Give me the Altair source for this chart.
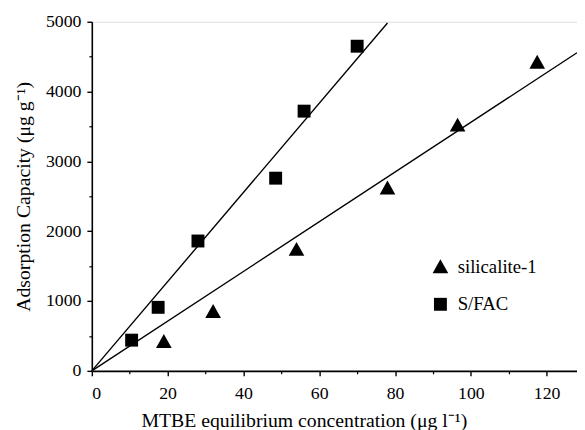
import altair as alt
import pandas as pd
import numpy as np

# data
sil_x = [19, 32, 54, 78, 96.5, 117.5]
sil_y = [420, 850, 1740, 2620, 3520, 4420]
sfac_x = [10.5, 17.5, 28, 48.5, 56, 70]
sfac_y = [440, 910, 1860, 2760, 3720, 4650]
series_names = ["silicalite-1", "S/FAC"]
fit_x_end = [128, 78]  # where each fitted line stops
x_major = [0, 20, 40, 60, 80, 100, 120]
x_minor = [10, 30, 50, 70, 90, 110]
y_major = [0, 1000, 2000, 3000, 4000, 5000]
y_minor = [500, 1500, 2500, 3500, 4500]

FONT = "Liberation Serif"
TRI = "M-1.15,0.95L1.15,0.95L0,-1.1Z"
SQ = "M-0.95,-0.95L0.95,-0.95L0.95,0.95L-0.95,0.95Z"

pts = pd.DataFrame({
    "x": sil_x + sfac_x,
    "y": sil_y + sfac_y,
    "series": [series_names[0]] * len(sil_x) + [series_names[1]] * len(sfac_x),
})

# least squares fits through the origin
rows = []
for name, xs, ys, xe in [(series_names[0], sil_x, sil_y, fit_x_end[0]),
                         (series_names[1], sfac_x, sfac_y, fit_x_end[1])]:
    xs = np.array(xs, float); ys = np.array(ys, float)
    k = float((xs * ys).sum() / (xs * xs).sum())
    rows.append({"series": name, "x": 0.0, "y": 0.0})
    rows.append({"series": name, "x": float(xe), "y": k * xe})
lines = pd.DataFrame(rows)

xscale = alt.Scale(domain=[0, 128], nice=False, zero=False)
yscale = alt.Scale(domain=[0, 5000], nice=False, zero=False)

axis_common = dict(
    labelFont=FONT, titleFont=FONT, labelFontSize=18, titleFontSize=20,
    labelColor="black", titleColor="black", titleFontWeight="normal",
    domainColor="black", tickColor="black", domainWidth=1.6, tickWidth=1.4,
    grid=False, format="d",
)

points = alt.Chart(pts).mark_point(filled=True, size=190, color="black", opacity=1).encode(
    x=alt.X("x:Q", scale=xscale,
            axis=alt.Axis(values=x_major, tickSize=5, labelPadding=9, orient="bottom",
                          title="MTBE equilibrium concentration (μg l⁻¹)", titlePadding=8,
                          titleX=215, titleAlign="center",
                          **axis_common)),
    y=alt.Y("y:Q", scale=yscale,
            axis=alt.Axis(values=y_major, tickSize=5, labelPadding=6, orient="left",
                          title="Adsorption Capacity (μg g⁻¹)", titlePadding=12,
                          **axis_common)),
    shape=alt.Shape("series:N",
                    scale=alt.Scale(domain=series_names, range=[TRI, SQ]),
                    legend=alt.Legend(orient="none", legendX=344, legendY=239, title=None,
                                      labelFont=FONT, labelFontSize=19, labelColor="black",
                                      symbolSize=190, symbolFillColor="black",
                                      symbolStrokeColor="black", symbolStrokeWidth=0,
                                      labelOffset=8, rowPadding=18)),
)

fit = alt.Chart(lines).mark_line(color="black", strokeWidth=1.4).encode(
    x=alt.X("x:Q", scale=xscale,
            axis=alt.Axis(values=x_minor, tickSize=3, labels=False, title=None,
                          orient="bottom", domain=False, tickColor="black", tickWidth=1.2,
                          grid=False)),
    y=alt.Y("y:Q", scale=yscale,
            axis=alt.Axis(values=y_minor, tickSize=3, labels=False, title=None,
                          orient="left", domain=False, tickColor="black", tickWidth=1.2,
                          grid=False)),
    detail="series:N",
)

chart = alt.layer(fit, points).resolve_axis(x="independent", y="independent").properties(
    width=492, height=354,
    autosize=alt.AutoSizeParams(type="none"),
    padding={"left": 85, "top": 11, "right": 0, "bottom": 57},
).configure_view(stroke=None).configure(
    background="white", font=FONT,
    style={"guide-label": {"font": FONT}, "guide-title": {"font": FONT}},
).configure_axis(labelFont=FONT, titleFont=FONT).configure_legend(labelFont=FONT)

chart.save("out.html", embed_options={"renderer": "svg", "actions": False})
